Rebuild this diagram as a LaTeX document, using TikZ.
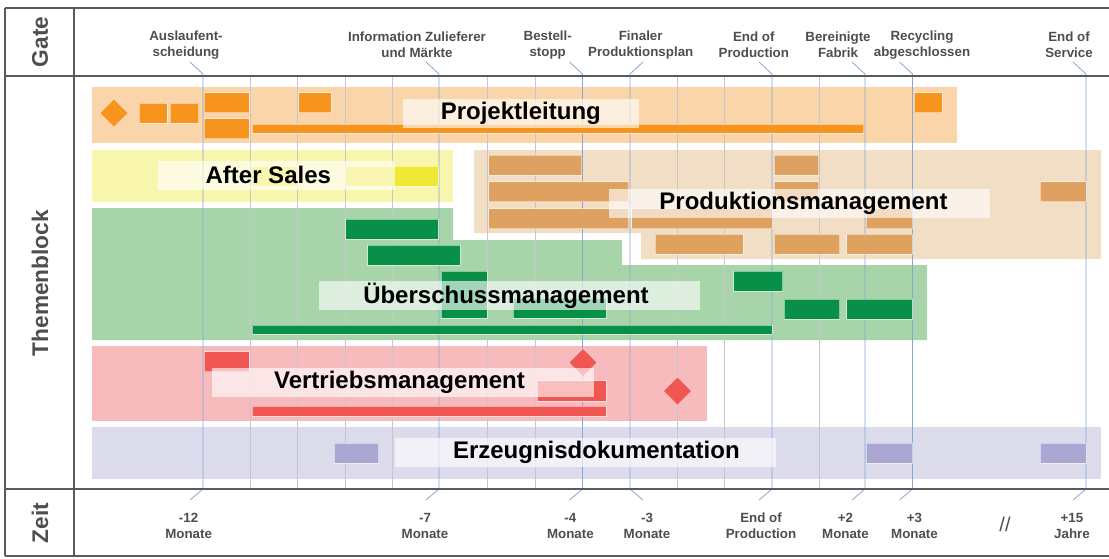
\documentclass[tikz,border=0pt]{standalone}
\usepackage{fontspec}
\setmainfont{Liberation Sans}
\usepackage{xcolor}
\usepackage{tikz}
\definecolor{myframe}{RGB}{90,90,90}
\definecolor{mytext}{RGB}{78,78,78}
\definecolor{mygrid}{RGB}{198,198,206}
\definecolor{myblue}{RGB}{132,168,214}
\definecolor{myorange}{RGB}{247,148,30}
\definecolor{myyellow}{RGB}{240,232,52}
\definecolor{mytan}{RGB}{222,161,96}
\definecolor{mygreen}{RGB}{8,143,72}
\definecolor{myred}{RGB}{240,86,82}
\definecolor{mylilac}{RGB}{170,167,210}
\definecolor{hdrorange}{RGB}{251,213,170}
\definecolor{hdryellow}{RGB}{248,245,172}
\definecolor{hdrtan}{RGB}{242,221,197}
\definecolor{hdrgreen}{RGB}{168,212,170}
\definecolor{hdrred}{RGB}{247,187,190}
\definecolor{hdrlilac}{RGB}{220,219,236}
\tikzset{
  frame/.style={draw=myframe, line width=1.1pt},
  gridline/.style={draw=mygrid, line width=0.5pt},
  msline/.style={draw=myblue, line width=0.6pt},
  task/.style={fill=#1, draw=white, draw opacity=0.5, line width=0.4pt},
  tag/.style={fill=white, fill opacity=0.62, text opacity=1, inner sep=0pt, minimum height=21.75pt, minimum width=#1, font=\fontsize{18}{20}\selectfont\bfseries},
  gate/.style={align=center, text=mytext, font=\fontsize{10}{12}\selectfont\bfseries},
  side/.style={rotate=90, text=mytext, font=\fontsize{17}{20}\selectfont\bfseries}
}
\begin{document}
\begin{tikzpicture}[x=0.75pt, y=-0.75pt]
  \useasboundingbox (0,0) rectangle (1109,558);

  % theme bands
  \fill [hdrorange] (92,87) rectangle (957,143);
  \fill [hdryellow] (92,150) rectangle (453,202);
  \fill [hdrtan] (474,150) -- (1101,150) -- (1101,259) -- (641,259) -- (641,233) -- (474,233) -- cycle;
  \fill [hdrgreen] (92,208) -- (453,208) -- (453,240) -- (622,240) -- (622,265) -- (927,265) -- (927,340) -- (92,340) -- cycle;
  \fill [hdrred] (92,346) rectangle (707,421);
  \fill [hdrlilac] (92,427) rectangle (1101,479);

  % month grid and milestones
  \foreach \x in {250,297.5,345,392.5,487,535,677.5,724.5,819.5}
    \draw [gridline] (\x,76) -- (\x,489);
  \foreach \x/\d in {203/-13,439/-13,582.5/-13,630/13,772/-13,865/-13,912.5/-13,1086/-13}
    \draw [msline] (\x+\d,62) -- (\x,74) -- (\x,489) -- (\x+\d,500);

  % Projektleitung
  \fill [task=myorange] (114,99) -- (128,113) -- (114,127) -- (100,113) -- cycle;
  \fill [task=myorange] (139,103) rectangle (167,123);
  \fill [task=myorange] (170,103) rectangle (198.5,123);
  \fill [task=myorange] (204,92.5) rectangle (249,112.5);
  \fill [task=myorange] (204,118.5) rectangle (249,138.5);
  \fill [task=myorange] (298.5,92.5) rectangle (331,112.5);
  \fill [task=myorange] (914,92.5) rectangle (942,112.5);
  \fill [task=myorange] (252,124) rectangle (863.5,133);

  % After Sales
  \fill [task=myyellow] (251,166) rectangle (297,186);
  \fill [task=myyellow] (345.5,166) rectangle (438,186);

  % Produktionsmanagement
  \fill [task=mytan] (488.5,155) rectangle (581.5,175);
  \fill [task=mytan] (774,155) rectangle (818.5,175);
  \fill [task=mytan] (488.5,181.5) rectangle (628.5,201.5);
  \fill [task=mytan] (774,181.5) rectangle (818.5,201.5);
  \fill [task=mytan] (1040,181.5) rectangle (1086,201.5);
  \fill [task=mytan] (488.5,208.5) rectangle (628.5,228.5);
  \fill [task=mytan] (631.5,208.5) rectangle (772,228.5);
  \fill [task=mytan] (866,208.5) rectangle (912,228.5);
  \fill [task=mytan] (655,234) rectangle (743,254);
  \fill [task=mytan] (774,234) rectangle (839.5,254);
  \fill [task=mytan] (846.5,234) rectangle (912,254);

  % Ueberschussmanagement
  \fill [task=mygreen] (345.5,219) rectangle (438,239);
  \fill [task=mygreen] (367.5,245) rectangle (460,265);
  \fill [task=mygreen] (441,271) rectangle (487,318);
  \fill [task=mygreen] (513,298) rectangle (606,318);
  \fill [task=mygreen] (733.5,271) rectangle (782.5,291);
  \fill [task=mygreen] (784,299) rectangle (839.5,319);
  \fill [task=mygreen] (846.5,299) rectangle (912,319);
  \fill [task=mygreen] (252,325) rectangle (772,334);

  % Vertriebsmanagement
  \fill [task=myred] (204,351.5) rectangle (249,371.5);
  \fill [task=myred] (537,380.5) rectangle (606,401);
  \fill [task=myred] (252,406) rectangle (606,416);
  \fill [task=myred] (583,348.5) -- (597,362.5) -- (583,376.5) -- (569,362.5) -- cycle;
  \fill [task=myred] (677.5,377) -- (691.5,391) -- (677.5,405) -- (663.5,391) -- cycle;

  % Erzeugnisdokumentation
  \fill [task=mylilac] (334,443) rectangle (378.5,463);
  \fill [task=mylilac] (866,443) rectangle (912,463);
  \fill [task=mylilac] (1040,443) rectangle (1086,463);

  % block titles
  \node [tag=177.4pt] (pl) at (520.8,113.5) {Projektleitung};
  \node [tag=177.4pt] (as) at (276.3,175) {\hspace*{-12pt}After Sales};
  \node [tag=286.1pt] (pm) at (799.5,203.8) {\hspace*{6pt}Produktionsmanagement};
  \node [tag=286.1pt] (um) at (509.3,295.5) {\hspace*{-5pt}Überschussmanagement};
  \node [tag=286.1pt] (vm) at (402.8,382) {\hspace*{-5pt}Vertriebsmanagement};
  \node [tag=286.1pt] (ed) at (585.7,452.2) {\hspace*{16pt}Erzeugnisdokumentation};

  % table frame
  \draw [frame] (5,8) -- (1109,8);
  \draw [frame] (5,76) -- (1109,76);
  \draw [frame] (5,489) -- (1109,489);
  \draw [frame] (5,556) -- (1109,556);
  \draw [frame] (5,8) -- (5,556);
  \draw [frame] (74,8) -- (74,556);

  \node [side] (gate) at (40,42) {Gate};
  \node [side] (theme) at (40,283) {Themenblock};
  \node [side] (time) at (40,523) {Zeit};

  % gates
  \node [gate] (g1) at (186,45) {Auslaufent-\\scheidung};
  \node [gate] (g2) at (417,45) {Information Zulieferer\\und Märkte};
  \node [gate] (g3) at (547.7,45) {Bestell-\\stopp};
  \node [gate] (g4) at (640.7,45) {Finaler\\Produktionsplan};
  \node [gate] (g5) at (753.8,45) {End of\\Production};
  \node [gate] (g6) at (838,45) {Bereinigte\\Fabrik};
  \node [gate] (g7) at (922,45) {Recycling\\abgeschlossen};
  \node [gate] (g8) at (1069,45) {End of\\Service};

  % time axis
  \node [gate] (t1) at (188.6,525.5) {-12\\Monate};
  \node [gate] (t2) at (425,525.5) {-7\\Monate};
  \node [gate] (t3) at (570.4,525.5) {-4\\Monate};
  \node [gate] (t4) at (647,525.5) {-3\\Monate};
  \node [gate] (t5) at (761,525.5) {End of\\Production};
  \node [gate] (t6) at (845.5,525.5) {+2\\Monate};
  \node [gate] (t7) at (914.5,525.5) {+3\\Monate};
  \node [gate, font=\fontsize{15}{17}\selectfont] (gap) at (1005,524) {//};
  \node [gate] (t8) at (1072,525.5) {+15\\Jahre};
\end{tikzpicture}
\end{document}
